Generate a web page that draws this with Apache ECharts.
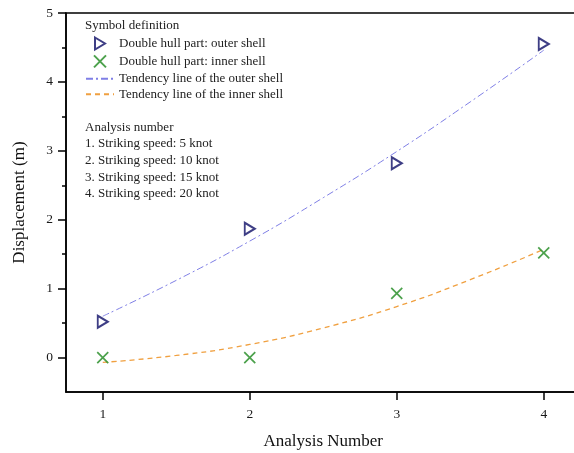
<!DOCTYPE html>
<html>
<head>
<meta charset="utf-8">
<script src="https://cdn.jsdelivr.net/npm/echarts@6/dist/echarts.min.js"></script>
<style>
html,body{margin:0;padding:0;background:#fff;}
#chart{width:574px;height:453px;}
</style>
</head>
<body>
<div id="chart"></div>
<script>
// ---- data ----
var analysisNumber = [1, 2, 3, 4];
var outerShell = [0.52, 1.87, 2.82, 4.55];
var innerShell = [0.00, 0.00, 0.93, 1.52];
var trendX = [1, 1.5, 2, 2.5, 3, 3.5, 4];
var outerTrend = [0.60, 1.12, 1.69, 2.32, 2.99, 3.71, 4.46];
var innerTrend = [-0.07, 0.03, 0.19, 0.43, 0.74, 1.13, 1.57];
var xTickValues = [1, 2, 3, 4];
var yTickValues = [0, 1, 2, 3, 4, 5];
var yMinorTickValues = [0.5, 1.5, 2.5, 3.5, 4.5];
var seriesNames = [
  'Double hull part: outer shell',
  'Double hull part: inner shell',
  'Tendency line of the outer shell',
  'Tendency line of the inner shell'
];
var analysisLines = [
  'Analysis number',
  '1. Striking speed: 5 knot',
  '2. Striking speed: 10 knot',
  '3. Striking speed: 15 knot',
  '4. Striking speed: 20 knot'
];

function pairs(xs, ys) { return xs.map(function (x, i) { return [x, ys[i]]; }); }

var FONT = 'Liberation Serif';
var hiddenMarker = { opacity: 0, color: 'transparent', borderWidth: 0 };
var chart = echarts.init(document.getElementById('chart'));
chart.setOption({
  animation: false,
  backgroundColor: '#fff',
  textStyle: { fontFamily: FONT },
  grid: {
    left: 66, top: 13, width: 514.5, height: 379,
    outerBoundsMode: 'none', containLabel: false,
    show: true, borderColor: '#000', borderWidth: 1.5, backgroundColor: 'transparent'
  },
  xAxis: {
    type: 'value', min: 0.75, max: 4.25,
    name: 'Analysis Number', nameLocation: 'middle', nameGap: 41,
    nameTextStyle: { fontFamily: FONT, fontSize: 17, color: '#111' },
    axisLine: { show: true, onZero: false, lineStyle: { color: '#000', width: 1.5 } },
    axisTick: { show: true, length: 8, lineStyle: { color: '#000', width: 1.5 }, customValues: xTickValues },
    axisLabel: { fontFamily: FONT, fontSize: 13.5, color: '#1a1a1a', margin: 15, customValues: xTickValues },
    splitLine: { show: false }
  },
  yAxis: [{
    type: 'value', min: -0.5, max: 5,
    name: 'Displacement (m)', nameLocation: 'middle', nameGap: 38,
    nameTextStyle: { fontFamily: FONT, fontSize: 17, color: '#111' },
    axisLine: { show: true, onZero: false, lineStyle: { color: '#000', width: 1.5 } },
    axisTick: { show: true, length: 8, lineStyle: { color: '#000', width: 1.5 }, customValues: yTickValues },
    axisLabel: { fontFamily: FONT, fontSize: 13.5, color: '#1a1a1a', margin: 13, customValues: yTickValues },
    splitLine: { show: false }
  }, {
    type: 'value', min: -0.5, max: 5, position: 'left',
    axisLine: { show: false },
    axisTick: { show: true, length: 4, lineStyle: { color: '#000', width: 1.5 }, customValues: yMinorTickValues },
    axisLabel: { show: false },
    splitLine: { show: false }
  }],
  legend: {
    orient: 'vertical', left: 85, top: 36.5, padding: 0,
    itemWidth: 28, itemHeight: 12, itemGap: 2.4,
    textStyle: { fontFamily: FONT, fontSize: 13, color: '#222' },
    data: [
      { name: seriesNames[0] },
      { name: seriesNames[1] },
      { name: seriesNames[2], itemStyle: hiddenMarker },
      { name: seriesNames[3], itemStyle: hiddenMarker }
    ]
  },
  graphic: [
    { type: 'text', left: 85, top: 19, style: { text: 'Symbol definition', font: '13px "Liberation Serif"', fill: '#222' } },
    { type: 'text', left: 85, top: 119, style: { text: analysisLines.join('\n'), font: '13px "Liberation Serif"', lineHeight: 16.6, fill: '#222' } }
  ],
  series: [
    {
      name: seriesNames[0], type: 'scatter', data: pairs(analysisNumber, outerShell),
      symbol: 'path://M0,0 L10,6 L0,12 Z', symbolSize: [10, 12],
      itemStyle: { color: '#fff', borderColor: '#0e0e66', borderWidth: 2 }, z: 5
    },
    {
      name: seriesNames[1], type: 'scatter', data: pairs(analysisNumber, innerShell),
      symbol: 'path://M0,0 L10,10 M10,0 L0,10', symbolSize: 11,
      itemStyle: { color: 'none', borderColor: '#1f8a1f', borderWidth: 1.7 }, z: 5
    },
    {
      name: seriesNames[2], type: 'line', data: pairs(trendX, outerTrend), smooth: true,
      symbol: 'none', lineStyle: { color: '#7f7fe6', width: 1, type: [7, 3, 2, 3] },
      itemStyle: { color: '#7f7fe6' }
    },
    {
      name: seriesNames[3], type: 'line', data: pairs(trendX, innerTrend), smooth: true,
      symbol: 'none', lineStyle: { color: '#f0a040', width: 1.3, type: [5, 4] },
      itemStyle: { color: '#f0a040' }
    }
  ]
});
</script>
</body>
</html>
